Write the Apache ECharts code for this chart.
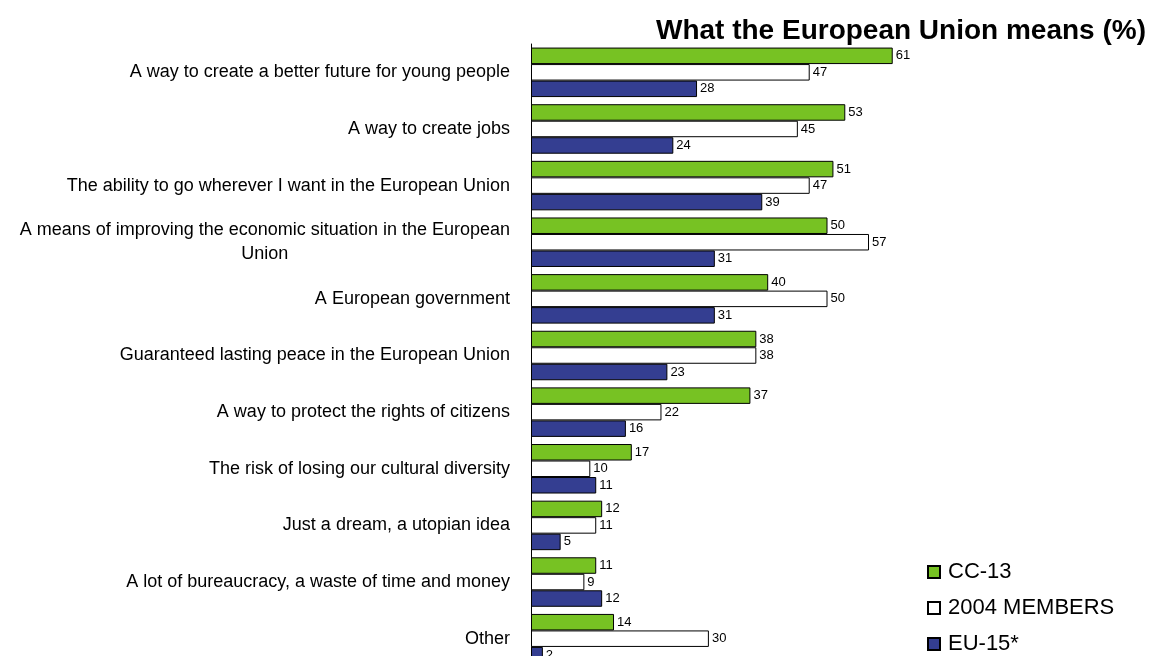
<!DOCTYPE html>
<html>
<head>
<meta charset="utf-8">
<script src="https://cdn.jsdelivr.net/npm/echarts@6/dist/echarts.min.js"></script>
<style>
html,body{margin:0;padding:0;background:#fff;overflow:hidden;}
#main{width:1153px;height:667px;}
</style>
</head>
<body>
<div id="main"></div>
<script>
const categories = [
  "A way to create a better future for young people",
  "A way to create jobs",
  "The ability to go wherever I want in the European Union",
  "A means of improving the economic situation in the European Union",
  "A European government",
  "Guaranteed lasting peace in the European Union",
  "A way to protect the rights of citizens",
  "The risk of losing our cultural diversity",
  "Just a dream, a utopian idea",
  "A lot of bureaucracy, a waste of time and money",
  "Other"
];
const seriesNames = ["CC-13", "2004 MEMBERS", "EU-15*"];
const cc13 = [61, 53, 51, 50, 40, 38, 37, 17, 12, 11, 14];
const members2004 = [47, 45, 47, 57, 50, 38, 22, 10, 11, 9, 30];
const eu15 = [28, 24, 39, 31, 31, 23, 16, 11, 5, 12, 2];
const titleText = "What the European Union means (%)";

const colors = ["#77C223", "#FFFFFF", "#343E91"];
const FONT = "Liberation Sans, Arial, sans-serif";
const LABEL_SIZE = 18;
const LABEL_WIDTH = 505;

// Word-wrap a label to LABEL_WIDTH; continuation lines are centred under the first.
const measureCtx = document.createElement("canvas").getContext("2d");
measureCtx.font = LABEL_SIZE + "px " + FONT;
function wrapLabel(text) {
  const words = text.split(" ");
  const lines = [];
  let cur = "";
  words.forEach(function (w) {
    const t = cur ? cur + " " + w : w;
    if (cur && measureCtx.measureText(t).width > LABEL_WIDTH) {
      lines.push(cur); cur = w;
    } else { cur = t; }
  });
  lines.push(cur);
  return lines.map(function (l, i) {
    return i === 0 ? "{r|" + l + "}" : "{c|" + l + "}";
  }).join("\n");
}

function mk(name, data, color) {
  return {
    name: name,
    type: "bar",
    data: data,
    barWidth: 16.5,
    barGap: "0%",
    itemStyle: { color: color, borderColor: "#000", borderWidth: 1 },
    label: {
      show: true, position: "right", distance: 3,
      color: "#000", fontSize: 13, fontFamily: FONT
    },
    animation: false
  };
}

const chart = echarts.init(document.getElementById("main"), null, { renderer: "canvas" });
chart.setOption({
  animation: false,
  backgroundColor: "#fff",
  title: {
    text: titleText,
    right: 7, top: 17, padding: 0,
    textStyle: { fontFamily: FONT, fontSize: 28, fontWeight: "bold", color: "#000" }
  },
  legend: {
    orient: "vertical",
    left: 927, top: 561, padding: 0,
    itemWidth: 12, itemHeight: 12, itemGap: 14,
    icon: "rect",
    textStyle: { fontFamily: FONT, fontSize: 22, color: "#000", padding: [0, 0, 0, 3] },
    data: seriesNames
  },
  grid: { left: 531, right: 29, top: 44, bottom: 0, outerBoundsMode: "none", containLabel: false },
  xAxis: {
    type: "value", min: 0, max: 100,
    show: false
  },
  yAxis: {
    type: "category",
    data: categories,
    inverse: true,
    axisLine: { show: true, lineStyle: { color: "#000", width: 1 } },
    axisTick: { show: false },
    axisLabel: {
      color: "#000", fontFamily: FONT, fontSize: LABEL_SIZE, margin: 21,
      align: "right", lineHeight: 24,
      formatter: wrapLabel,
      rich: {
        r: { fontFamily: FONT, fontSize: LABEL_SIZE, color: "#000", lineHeight: 24, align: "right" },
        c: { fontFamily: FONT, fontSize: LABEL_SIZE, color: "#000", lineHeight: 24, align: "center" }
      }
    }
  },
  series: [
    mk(seriesNames[0], cc13, colors[0]),
    mk(seriesNames[1], members2004, colors[1]),
    mk(seriesNames[2], eu15, colors[2])
  ]
});
</script>
</body>
</html>
